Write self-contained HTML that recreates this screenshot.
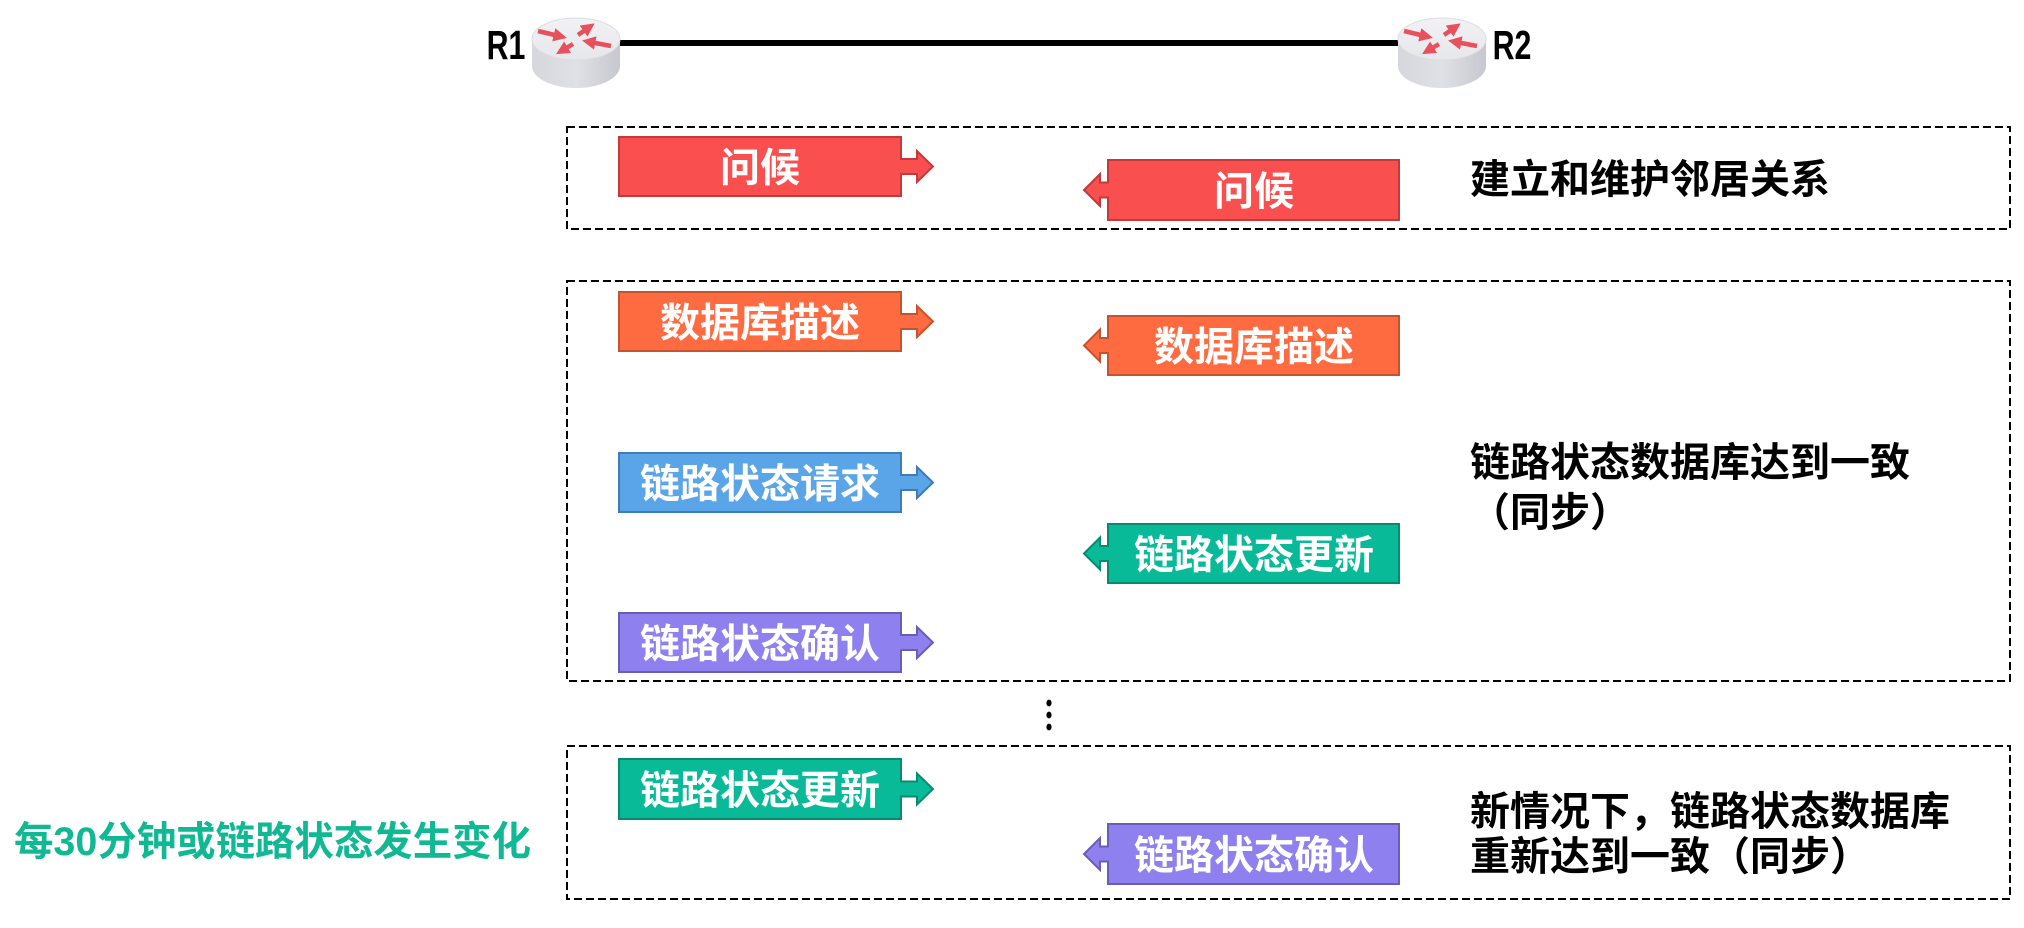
<!DOCTYPE html>
<html>
<head>
<meta charset="utf-8">
<style>
  html,body{margin:0;padding:0;background:#fff;}
  svg{display:block;}
  text{font-family:"Liberation Sans","Noto Sans CJK SC",sans-serif;font-weight:bold;}
</style>
</head>
<body>
<svg width="2024" height="928" viewBox="0 0 2024 928" xmlns="http://www.w3.org/2000/svg">
  <defs>
    <linearGradient id="body" x1="0" y1="0" x2="1" y2="0">
      <stop offset="0" stop-color="#d6d7dc"/>
      <stop offset="0.5" stop-color="#e0e1e6"/>
      <stop offset="1" stop-color="#c6c8cf"/>
    </linearGradient>
    <linearGradient id="top" x1="0" y1="0" x2="0" y2="1">
      <stop offset="0" stop-color="#f2f2f5"/>
      <stop offset="1" stop-color="#e6e7eb"/>
    </linearGradient>
    <marker id="ah" viewBox="0 0 10 10" refX="4" refY="5" markerWidth="3" markerHeight="3" orient="auto">
      <path d="M0,0 L10,5 L0,10 z" fill="#e8505b"/>
    </marker>
    <g id="router">
      <path d="M-44,0 L-44,27 A44,22 0 0 0 44,27 L44,0 Z" fill="url(#body)"/>
      <ellipse cx="0" cy="0" rx="44" ry="21" fill="url(#top)" stroke="#dcdde2" stroke-width="1"/>
      <g stroke="#e8505b" stroke-width="4.5" fill="none" marker-end="url(#ah)">
        <line x1="-38" y1="-8" x2="-17" y2="-3"/>
        <line x1="2" y1="-4" x2="12" y2="-11"/>
        <line x1="35" y1="7" x2="14" y2="3"/>
        <line x1="-3" y1="5" x2="-13" y2="11"/>
      </g>
    </g>
  </defs>

  <!-- link -->
  <line x1="620" y1="43" x2="1400" y2="43" stroke="#000" stroke-width="6"/>
  <use href="#router" x="576" y="39"/>
  <use href="#router" x="1442" y="39"/>
  <text x="506" y="59" font-size="41" text-anchor="middle" fill="#000" transform="translate(506,0) scale(0.74,1) translate(-506,0)">R1</text>
  <text x="1512" y="59" font-size="41" text-anchor="middle" fill="#000" transform="translate(1512,0) scale(0.74,1) translate(-1512,0)">R2</text>

  <!-- dashed boxes -->
  <g fill="none" stroke="#000" stroke-width="2" stroke-dasharray="8 4">
    <rect x="567" y="127" width="1443" height="102"/>
    <rect x="567" y="281" width="1443" height="400"/>
    <rect x="567" y="746" width="1443" height="153"/>
  </g>

  <!-- dots -->
  <g fill="#000">
    <ellipse cx="1049" cy="703" rx="2.6" ry="3.4"/>
    <ellipse cx="1049" cy="715" rx="2.6" ry="3.4"/>
    <ellipse cx="1049" cy="727" rx="2.6" ry="3.4"/>
  </g>

  <!-- Left blocks (right-pointing) -->
  <g stroke-width="2" stroke-linejoin="miter">
    <polygon fill="#f94f4f" stroke="#c23a3a" points="619,137 901,137 901,159 917,159 917,151 933,166.5 917,182 917,174 901,174 901,196 619,196"/>
    <polygon fill="#ff6b40" stroke="#c4532f" points="619,292 901,292 901,314 917,314 917,306 933,321.5 917,337 917,329 901,329 901,351 619,351"/>
    <polygon fill="#5aa5e8" stroke="#3f7bb6" points="619,453 901,453 901,475 917,475 917,467 933,482.5 917,498 917,490 901,490 901,512 619,512"/>
    <polygon fill="#8e80ee" stroke="#6a5db6" points="619,613 901,613 901,635 917,635 917,627 933,642.5 917,658 917,650 901,650 901,672 619,672"/>
    <polygon fill="#08ba98" stroke="#078a70" points="619,759 901,759 901,781.5 917,781.5 917,773.5 933,789 917,804.5 917,796.5 901,796.5 901,819 619,819"/>
  </g>

  <!-- Right blocks (left-pointing) -->
  <g stroke-width="2">
    <polygon fill="#f94f4f" stroke="#c23a3a" points="1399,160 1399,220 1108,220 1108,197.5 1100,197.5 1100,206 1084,190 1100,174 1100,182.5 1108,182.5 1108,160"/>
    <polygon fill="#ff6b40" stroke="#c4532f" points="1399,316 1399,375 1108,375 1108,353 1100,353 1100,361.5 1084,345.5 1100,329.5 1100,338 1108,338 1108,316"/>
    <polygon fill="#08ba98" stroke="#078a70" points="1399,524 1399,583 1108,583 1108,561 1100,561 1100,569.5 1084,553.5 1100,537.5 1100,546 1108,546 1108,524"/>
    <polygon fill="#8e80ee" stroke="#6a5db6" points="1399,824 1399,884 1108,884 1108,861.5 1100,861.5 1100,870 1084,854 1100,838 1100,846.5 1108,846.5 1108,824"/>
  </g>

  <!-- block labels -->
  <g fill="#fff" font-size="40" text-anchor="middle">
    <text x="760" y="181.5">问候</text>
    <text x="760" y="336.5">数据库描述</text>
    <text x="760" y="497.5">链路状态请求</text>
    <text x="760" y="657.5">链路状态确认</text>
    <text x="760" y="804">链路状态更新</text>
    <text x="1254" y="205">问候</text>
    <text x="1254" y="360.5">数据库描述</text>
    <text x="1254" y="568.5">链路状态更新</text>
    <text x="1254" y="869">链路状态确认</text>
  </g>

  <!-- right descriptions -->
  <g fill="#000" font-size="40">
    <text x="1470" y="193">建立和维护邻居关系</text>
    <text x="1470" y="476">链路状态数据库达到一致</text>
    <text x="1470" y="526">（同步）</text>
    <text x="1470" y="825">新情况下，链路状态数据库</text>
    <text x="1470" y="870">重新达到一致（同步）</text>
  </g>

  <!-- left green note -->
  <text x="14" y="855" font-size="40" fill="#10b894" textLength="517" lengthAdjust="spacingAndGlyphs">每30分钟或链路状态发生变化</text>
</svg>
</body>
</html>
